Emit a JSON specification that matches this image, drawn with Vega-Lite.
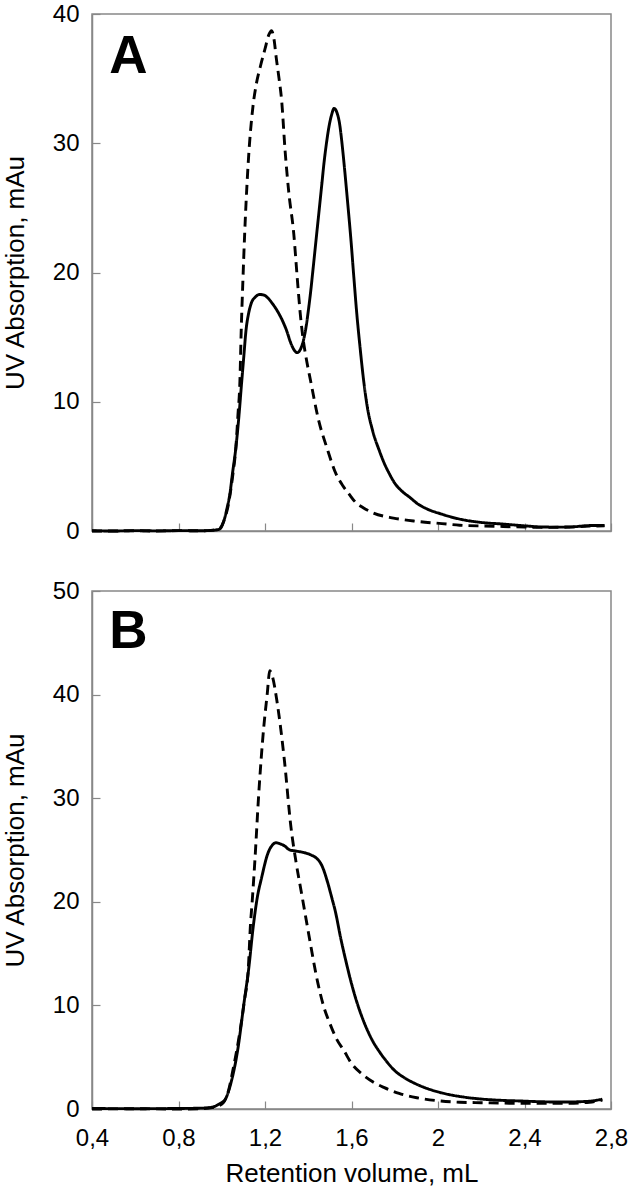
{
  "$schema": "https://vega.github.io/schema/vega-lite/v6.json",
  "padding": {"left": 1, "top": 1, "right": 0, "bottom": 0},
  "spacing": 34,
  "background": "white",
  "config": {
    "font": "Liberation Sans",
    "view": {"stroke": "#888888", "strokeWidth": 1.5},
    "axis": {
      "grid": false,
      "domainColor": "#888888",
      "domainWidth": 1.5,
      "tickColor": "#888888",
      "tickSize": -8,
      "tickWidth": 1.2,
      "labelFont": "Liberation Sans",
      "labelFontSize": 24,
      "labelColor": "black",
      "labelFlush": false,
      "labelOverlap": false,
      "labelBound": false,
      "titleFont": "Liberation Sans",
      "titleFontSize": 26,
      "titleFontWeight": "normal",
      "titleColor": "black"
    },
    "axisY": {"labelPadding": 21, "titlePadding": 24},
    "axisX": {"labelPadding": 25, "titlePadding": 10}
  },
  "datasets": {
    "A": [
      {"s": "dashed", "x": 0.40, "y": 0.0},
      {"s": "dashed", "x": 0.50, "y": 0.0},
      {"s": "dashed", "x": 0.60, "y": 0.02},
      {"s": "dashed", "x": 0.70, "y": 0.0},
      {"s": "dashed", "x": 0.80, "y": 0.03},
      {"s": "dashed", "x": 0.90, "y": 0.02},
      {"s": "dashed", "x": 0.95, "y": 0.05},
      {"s": "dashed", "x": 0.99, "y": 0.2},
      {"s": "dashed", "x": 1.01, "y": 0.8},
      {"s": "dashed", "x": 1.03, "y": 2.0},
      {"s": "dashed", "x": 1.05, "y": 4.2},
      {"s": "dashed", "x": 1.065, "y": 6.4},
      {"s": "dashed", "x": 1.075, "y": 9.0},
      {"s": "dashed", "x": 1.084, "y": 11.6},
      {"s": "dashed", "x": 1.090, "y": 15.5},
      {"s": "dashed", "x": 1.097, "y": 19.0},
      {"s": "dashed", "x": 1.106, "y": 23.0},
      {"s": "dashed", "x": 1.121, "y": 28.1},
      {"s": "dashed", "x": 1.144, "y": 32.8},
      {"s": "dashed", "x": 1.160, "y": 34.6},
      {"s": "dashed", "x": 1.178, "y": 35.9},
      {"s": "dashed", "x": 1.200, "y": 37.3},
      {"s": "dashed", "x": 1.218, "y": 38.4},
      {"s": "dashed", "x": 1.230, "y": 38.7},
      {"s": "dashed", "x": 1.242, "y": 38.0},
      {"s": "dashed", "x": 1.252, "y": 36.6},
      {"s": "dashed", "x": 1.265, "y": 35.0},
      {"s": "dashed", "x": 1.277, "y": 33.3},
      {"s": "dashed", "x": 1.293, "y": 29.4},
      {"s": "dashed", "x": 1.310, "y": 26.2},
      {"s": "dashed", "x": 1.333, "y": 23.0},
      {"s": "dashed", "x": 1.349, "y": 19.6},
      {"s": "dashed", "x": 1.362, "y": 17.0},
      {"s": "dashed", "x": 1.375, "y": 15.0},
      {"s": "dashed", "x": 1.387, "y": 13.7},
      {"s": "dashed", "x": 1.411, "y": 11.6},
      {"s": "dashed", "x": 1.449, "y": 8.5},
      {"s": "dashed", "x": 1.486, "y": 6.45},
      {"s": "dashed", "x": 1.529, "y": 4.4},
      {"s": "dashed", "x": 1.560, "y": 3.5},
      {"s": "dashed", "x": 1.589, "y": 2.85},
      {"s": "dashed", "x": 1.620, "y": 2.2},
      {"s": "dashed", "x": 1.654, "y": 1.8},
      {"s": "dashed", "x": 1.700, "y": 1.4},
      {"s": "dashed", "x": 1.794, "y": 1.0},
      {"s": "dashed", "x": 1.900, "y": 0.75},
      {"s": "dashed", "x": 2.018, "y": 0.57},
      {"s": "dashed", "x": 2.100, "y": 0.45},
      {"s": "dashed", "x": 2.205, "y": 0.39},
      {"s": "dashed", "x": 2.300, "y": 0.35},
      {"s": "dashed", "x": 2.400, "y": 0.3},
      {"s": "dashed", "x": 2.500, "y": 0.28},
      {"s": "dashed", "x": 2.600, "y": 0.3},
      {"s": "dashed", "x": 2.700, "y": 0.38},
      {"s": "dashed", "x": 2.770, "y": 0.4},
      {"s": "solid", "x": 0.40, "y": 0.02},
      {"s": "solid", "x": 0.50, "y": 0.0},
      {"s": "solid", "x": 0.60, "y": 0.03},
      {"s": "solid", "x": 0.70, "y": 0.01},
      {"s": "solid", "x": 0.80, "y": 0.03},
      {"s": "solid", "x": 0.90, "y": 0.02},
      {"s": "solid", "x": 0.95, "y": 0.04},
      {"s": "solid", "x": 0.99, "y": 0.15},
      {"s": "solid", "x": 1.01, "y": 0.8},
      {"s": "solid", "x": 1.025, "y": 1.8},
      {"s": "solid", "x": 1.037, "y": 2.8},
      {"s": "solid", "x": 1.05, "y": 4.5},
      {"s": "solid", "x": 1.065, "y": 6.4},
      {"s": "solid", "x": 1.08, "y": 9.0},
      {"s": "solid", "x": 1.092, "y": 11.5},
      {"s": "solid", "x": 1.102, "y": 13.5},
      {"s": "solid", "x": 1.112, "y": 15.5},
      {"s": "solid", "x": 1.125, "y": 16.9},
      {"s": "solid", "x": 1.136, "y": 17.6},
      {"s": "solid", "x": 1.155, "y": 18.1},
      {"s": "solid", "x": 1.175, "y": 18.3},
      {"s": "solid", "x": 1.195, "y": 18.25},
      {"s": "solid", "x": 1.215, "y": 18.0},
      {"s": "solid", "x": 1.234, "y": 17.6},
      {"s": "solid", "x": 1.258, "y": 17.0},
      {"s": "solid", "x": 1.280, "y": 16.3},
      {"s": "solid", "x": 1.300, "y": 15.5},
      {"s": "solid", "x": 1.318, "y": 14.6},
      {"s": "solid", "x": 1.335, "y": 14.0},
      {"s": "solid", "x": 1.349, "y": 13.8},
      {"s": "solid", "x": 1.362, "y": 14.0},
      {"s": "solid", "x": 1.377, "y": 14.7},
      {"s": "solid", "x": 1.390, "y": 15.8},
      {"s": "solid", "x": 1.400, "y": 17.0},
      {"s": "solid", "x": 1.411, "y": 18.5},
      {"s": "solid", "x": 1.423, "y": 20.4},
      {"s": "solid", "x": 1.436, "y": 22.5},
      {"s": "solid", "x": 1.449, "y": 24.6},
      {"s": "solid", "x": 1.462, "y": 26.7},
      {"s": "solid", "x": 1.473, "y": 28.5},
      {"s": "solid", "x": 1.485, "y": 30.1},
      {"s": "solid", "x": 1.495, "y": 31.2},
      {"s": "solid", "x": 1.508, "y": 32.2},
      {"s": "solid", "x": 1.520, "y": 32.7},
      {"s": "solid", "x": 1.532, "y": 32.4},
      {"s": "solid", "x": 1.545, "y": 31.5},
      {"s": "solid", "x": 1.556, "y": 30.0},
      {"s": "solid", "x": 1.568, "y": 28.0},
      {"s": "solid", "x": 1.579, "y": 26.0},
      {"s": "solid", "x": 1.598, "y": 22.4},
      {"s": "solid", "x": 1.611, "y": 19.6},
      {"s": "solid", "x": 1.624, "y": 16.9},
      {"s": "solid", "x": 1.639, "y": 14.3},
      {"s": "solid", "x": 1.655, "y": 11.8},
      {"s": "solid", "x": 1.672, "y": 9.7},
      {"s": "solid", "x": 1.697, "y": 7.8},
      {"s": "solid", "x": 1.729, "y": 6.2},
      {"s": "solid", "x": 1.750, "y": 5.3},
      {"s": "solid", "x": 1.776, "y": 4.4},
      {"s": "solid", "x": 1.800, "y": 3.7},
      {"s": "solid", "x": 1.832, "y": 3.1},
      {"s": "solid", "x": 1.870, "y": 2.6},
      {"s": "solid", "x": 1.906, "y": 2.1},
      {"s": "solid", "x": 1.950, "y": 1.7},
      {"s": "solid", "x": 2.018, "y": 1.3},
      {"s": "solid", "x": 2.080, "y": 1.0},
      {"s": "solid", "x": 2.149, "y": 0.77},
      {"s": "solid", "x": 2.220, "y": 0.63},
      {"s": "solid", "x": 2.299, "y": 0.54},
      {"s": "solid", "x": 2.400, "y": 0.4},
      {"s": "solid", "x": 2.486, "y": 0.31},
      {"s": "solid", "x": 2.550, "y": 0.3},
      {"s": "solid", "x": 2.620, "y": 0.32},
      {"s": "solid", "x": 2.700, "y": 0.42},
      {"s": "solid", "x": 2.770, "y": 0.42}
    ],
    "B": [
      {"s": "dashed", "x": 0.40, "y": 0.0},
      {"s": "dashed", "x": 0.60, "y": 0.02},
      {"s": "dashed", "x": 0.80, "y": 0.0},
      {"s": "dashed", "x": 0.90, "y": 0.03},
      {"s": "dashed", "x": 0.97, "y": 0.2},
      {"s": "dashed", "x": 1.007, "y": 0.6},
      {"s": "dashed", "x": 1.026, "y": 1.4},
      {"s": "dashed", "x": 1.054, "y": 4.0},
      {"s": "dashed", "x": 1.082, "y": 7.2},
      {"s": "dashed", "x": 1.105, "y": 10.5},
      {"s": "dashed", "x": 1.123, "y": 13.6},
      {"s": "dashed", "x": 1.132, "y": 17.5},
      {"s": "dashed", "x": 1.141, "y": 20.1},
      {"s": "dashed", "x": 1.153, "y": 23.9},
      {"s": "dashed", "x": 1.171, "y": 30.4},
      {"s": "dashed", "x": 1.194, "y": 36.8},
      {"s": "dashed", "x": 1.210, "y": 40.0},
      {"s": "dashed", "x": 1.222, "y": 42.3},
      {"s": "dashed", "x": 1.235, "y": 41.7},
      {"s": "dashed", "x": 1.255, "y": 39.4},
      {"s": "dashed", "x": 1.290, "y": 33.6},
      {"s": "dashed", "x": 1.320, "y": 27.2},
      {"s": "dashed", "x": 1.343, "y": 23.9},
      {"s": "dashed", "x": 1.370, "y": 20.7},
      {"s": "dashed", "x": 1.402, "y": 16.9},
      {"s": "dashed", "x": 1.445, "y": 12.1},
      {"s": "dashed", "x": 1.470, "y": 10.0},
      {"s": "dashed", "x": 1.501, "y": 8.2},
      {"s": "dashed", "x": 1.530, "y": 6.8},
      {"s": "dashed", "x": 1.566, "y": 5.6},
      {"s": "dashed", "x": 1.600, "y": 4.4},
      {"s": "dashed", "x": 1.650, "y": 3.35},
      {"s": "dashed", "x": 1.700, "y": 2.6},
      {"s": "dashed", "x": 1.752, "y": 2.06},
      {"s": "dashed", "x": 1.820, "y": 1.5},
      {"s": "dashed", "x": 1.902, "y": 1.09},
      {"s": "dashed", "x": 2.013, "y": 0.77},
      {"s": "dashed", "x": 2.100, "y": 0.65},
      {"s": "dashed", "x": 2.200, "y": 0.61},
      {"s": "dashed", "x": 2.300, "y": 0.57},
      {"s": "dashed", "x": 2.400, "y": 0.55},
      {"s": "dashed", "x": 2.500, "y": 0.55},
      {"s": "dashed", "x": 2.600, "y": 0.56},
      {"s": "dashed", "x": 2.700, "y": 0.65},
      {"s": "dashed", "x": 2.760, "y": 0.85},
      {"s": "solid", "x": 0.40, "y": 0.05},
      {"s": "solid", "x": 0.60, "y": 0.03},
      {"s": "solid", "x": 0.80, "y": 0.05},
      {"s": "solid", "x": 0.90, "y": 0.08},
      {"s": "solid", "x": 0.95, "y": 0.15},
      {"s": "solid", "x": 0.99, "y": 0.5},
      {"s": "solid", "x": 1.017, "y": 0.96},
      {"s": "solid", "x": 1.041, "y": 2.4},
      {"s": "solid", "x": 1.073, "y": 5.6},
      {"s": "solid", "x": 1.104, "y": 10.4},
      {"s": "solid", "x": 1.125, "y": 13.6},
      {"s": "solid", "x": 1.145, "y": 17.5},
      {"s": "solid", "x": 1.165, "y": 20.5},
      {"s": "solid", "x": 1.184, "y": 22.3},
      {"s": "solid", "x": 1.212, "y": 24.6},
      {"s": "solid", "x": 1.235, "y": 25.5},
      {"s": "solid", "x": 1.250, "y": 25.7},
      {"s": "solid", "x": 1.270, "y": 25.6},
      {"s": "solid", "x": 1.290, "y": 25.4},
      {"s": "solid", "x": 1.315, "y": 25.0},
      {"s": "solid", "x": 1.343, "y": 24.9},
      {"s": "solid", "x": 1.370, "y": 24.8},
      {"s": "solid", "x": 1.390, "y": 24.7},
      {"s": "solid", "x": 1.415, "y": 24.5},
      {"s": "solid", "x": 1.436, "y": 24.25},
      {"s": "solid", "x": 1.464, "y": 23.45},
      {"s": "solid", "x": 1.492, "y": 21.7},
      {"s": "solid", "x": 1.510, "y": 20.3},
      {"s": "solid", "x": 1.525, "y": 19.1},
      {"s": "solid", "x": 1.550, "y": 16.5},
      {"s": "solid", "x": 1.575, "y": 14.2},
      {"s": "solid", "x": 1.600, "y": 12.1},
      {"s": "solid", "x": 1.625, "y": 10.3},
      {"s": "solid", "x": 1.650, "y": 8.8},
      {"s": "solid", "x": 1.697, "y": 6.6},
      {"s": "solid", "x": 1.730, "y": 5.5},
      {"s": "solid", "x": 1.762, "y": 4.6},
      {"s": "solid", "x": 1.800, "y": 3.7},
      {"s": "solid", "x": 1.846, "y": 3.0},
      {"s": "solid", "x": 1.890, "y": 2.5},
      {"s": "solid", "x": 1.939, "y": 2.06},
      {"s": "solid", "x": 2.000, "y": 1.65},
      {"s": "solid", "x": 2.050, "y": 1.4},
      {"s": "solid", "x": 2.120, "y": 1.15},
      {"s": "solid", "x": 2.200, "y": 0.96},
      {"s": "solid", "x": 2.300, "y": 0.83},
      {"s": "solid", "x": 2.386, "y": 0.77},
      {"s": "solid", "x": 2.480, "y": 0.7},
      {"s": "solid", "x": 2.570, "y": 0.67},
      {"s": "solid", "x": 2.650, "y": 0.7},
      {"s": "solid", "x": 2.720, "y": 0.8},
      {"s": "solid", "x": 2.760, "y": 0.95}
    ],
    "labels": [
      {"panel": "A", "x": 0.48, "y": 35.4, "t": "A"},
      {"panel": "B", "x": 0.48, "y": 44.5, "t": "B"}
    ]
  },
  "vconcat": [
    {
      "width": 519,
      "height": 517,
      "layer": [
        {
          "data": {"name": "A"},
          "mark": {"type": "line", "color": "black", "strokeWidth": 2.9, "interpolate": "monotone", "strokeCap": "butt"},
          "encoding": {
            "x": {"field": "x", "type": "quantitative", "scale": {"domain": [0.4, 2.8], "nice": false, "zero": false},
                  "axis": {"values": [0.4, 0.8, 1.2, 1.6, 2.0, 2.4, 2.8], "labels": false, "title": null}},
            "y": {"field": "y", "type": "quantitative", "scale": {"domain": [0, 40], "nice": false},
                  "axis": {"values": [0, 10, 20, 30, 40], "title": "UV Absorption, mAu"}},
            "strokeDash": {"field": "s", "type": "nominal", "scale": {"domain": ["solid", "dashed"], "range": [[1, 0], [10, 6]]}, "legend": null}
          }
        },
        {
          "data": {"name": "labels"},
          "transform": [{"filter": "datum.panel === 'A'"}],
          "mark": {"type": "text", "font": "Liberation Sans", "fontSize": 53, "fontWeight": "bold", "align": "left", "baseline": "alphabetic", "color": "black"},
          "encoding": {
            "x": {"field": "x", "type": "quantitative"},
            "y": {"field": "y", "type": "quantitative"},
            "text": {"field": "t"}
          }
        }
      ]
    },
    {
      "width": 519,
      "height": 518,
      "layer": [
        {
          "data": {"name": "B"},
          "mark": {"type": "line", "color": "black", "strokeWidth": 2.9, "interpolate": "monotone", "strokeCap": "butt"},
          "encoding": {
            "x": {"field": "x", "type": "quantitative", "scale": {"domain": [0.4, 2.8], "nice": false, "zero": false},
                  "axis": {"values": [0.4, 0.8, 1.2, 1.6, 2.0, 2.4, 2.8], "labelExpr": "replace(format(datum.value, '~g'), '.', ',')", "title": "Retention volume, mL"}},
            "y": {"field": "y", "type": "quantitative", "scale": {"domain": [0, 50], "nice": false},
                  "axis": {"values": [0, 10, 20, 30, 40, 50], "title": "UV Absorption, mAu"}},
            "strokeDash": {"field": "s", "type": "nominal", "scale": {"domain": ["solid", "dashed"], "range": [[1, 0], [10, 6]]}, "legend": null}
          }
        },
        {
          "data": {"name": "labels"},
          "transform": [{"filter": "datum.panel === 'B'"}],
          "mark": {"type": "text", "font": "Liberation Sans", "fontSize": 53, "fontWeight": "bold", "align": "left", "baseline": "alphabetic", "color": "black"},
          "encoding": {
            "x": {"field": "x", "type": "quantitative"},
            "y": {"field": "y", "type": "quantitative"},
            "text": {"field": "t"}
          }
        }
      ]
    }
  ]
}
